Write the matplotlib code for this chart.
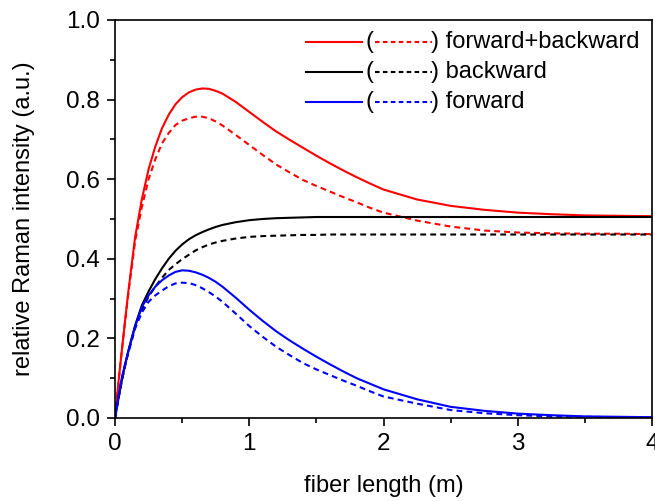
import matplotlib.pyplot as plt

plt.rcParams["font.family"] = ["Liberation Sans", "DejaVu Sans"]
plt.rcParams["font.size"] = 17

# values
x = [0, 0.025, 0.05, 0.075, 0.1, 0.15, 0.2, 0.25, 0.3, 0.35,
     0.4, 0.45, 0.5, 0.55, 0.6, 0.65, 0.7, 0.75, 0.8, 0.9,
     1.0, 1.1, 1.2, 1.3, 1.4, 1.5, 1.6, 1.7, 1.8, 1.9,
     2.0, 2.25, 2.5, 2.75, 3.0, 3.25, 3.5, 3.75, 4.0]

total = [0, .088, .168, .245, .32, .455, .55, .625, .682, .728,
         .762, .788, .806, .818, .825, .828, .827, .822, .815, .794,
         .769, .744, .720, .699, .679, .659, .640, .622, .605, .589,
         .574, .549, .533, .523, .516, .512, .509, .508, .507]
total_d = [0, .087, .166, .242, .315, .445, .530, .600, .650, .690,
           .716, .736, .747, .753, .757, .757, .753, .745, .735, .711,
           .686, .661, .637, .617, .598, .583, .569, .555, .542, .528,
           .516, .496, .481, .471, .466, .464, .463, .463, .462]
backward = [0, .048, .093, .133, .17, .233, .283, .318, .349, .376,
            .400, .420, .436, .449, .459, .467, .474, .480, .485, .492,
            .497, .500, .502, .503, .504, .505, .505, .505, .505, .505,
            .505, .505, .505, .505, .505, .505, .505, .505, .505]
backward_d = [0, .047, .092, .131, .167, .228, .272, .305, .330, .352,
              .372, .386, .399, .410, .421, .429, .436, .441, .445, .451,
              .455, .457, .458, .459, .460, .460, .461, .461, .461, .461,
              .461, .461, .461, .461, .461, .461, .461, .461, .461]
forward = [0, .052, .10, .136, .168, .23, .279, .308, .330, .346,
           .358, .367, .371, .370, .366, .360, .352, .342, .330, .302,
           .272, .244, .218, .195, .174, .154, .135, .117, .100, .086,
           .072, .047, .028, .018, .011, .007, .004, .003, .002]
forward_d = [0, .051, .098, .133, .165, .225, .265, .292, .308, .320,
             .331, .338, .340, .339, .334, .326, .316, .305, .292, .262,
             .231, .204, .179, .158, .138, .122, .108, .094, .081, .067,
             .054, .036, .020, .012, .007, .004, .003, .002, .001]

labels = ["forward+backward", "backward", "forward"]
colors = ["#ff0000", "#000000", "#0000ff"]
solid = [total, backward, forward]
dashed = [total_d, backward_d, forward_d]

fig = plt.figure(figsize=(6.55, 5.01), dpi=100)
ax = fig.add_axes([0.1756, 0.1657, 0.8198, 0.7944])

for ys, yd, c in zip(solid, dashed, colors):
    ax.plot(x, ys, color=c, lw=1.5, solid_joinstyle="round")
    ax.plot(x, yd, color=c, lw=1.5, dashes=(2.8, 2.0))

ax.set_xlim(0, 4)
ax.set_ylim(0, 1.0)
ax.set_xticks([0, 1, 2, 3, 4])
ax.set_xticks([0.5, 1.5, 2.5, 3.5], minor=True)
ax.set_yticks([0, 0.2, 0.4, 0.6, 0.8, 1.0])
ax.set_yticks([0.1, 0.3, 0.5, 0.7, 0.9], minor=True)
ax.set_yticklabels(["0.0", "0.2", "0.4", "0.6", "0.8", "1.0"])
ax.tick_params(which="major", direction="out", length=6, width=1.2,
               labelsize=17.5, pad=5)
ax.tick_params(which="minor", direction="out", length=3.5, width=1.2)
for s in ax.spines.values():
    s.set_linewidth(1.2)

ax.set_xlabel("fiber length (m)", fontsize=17, labelpad=14)
ax.set_ylabel("relative Raman intensity (a.u.)", fontsize=17, labelpad=22)

# hand-made legend: solid ( dashed ) label
rows = [0.945, 0.869, 0.794]
for yr, c, lab in zip(rows, colors, labels):
    ax.plot([0.356, 0.460], [yr, yr], color=c, lw=1.5, transform=ax.transAxes)
    ax.plot([0.484, 0.590], [yr, yr], color=c, lw=1.5, dashes=(2.2, 1.6),
            transform=ax.transAxes)
    ax.text(0.466, yr, "(", transform=ax.transAxes, va="center", ha="left", fontsize=17)
    ax.text(0.589, yr, ") " + lab, transform=ax.transAxes, va="center", ha="left",
            fontsize=17)

fig.savefig("out.png", dpi=100)
